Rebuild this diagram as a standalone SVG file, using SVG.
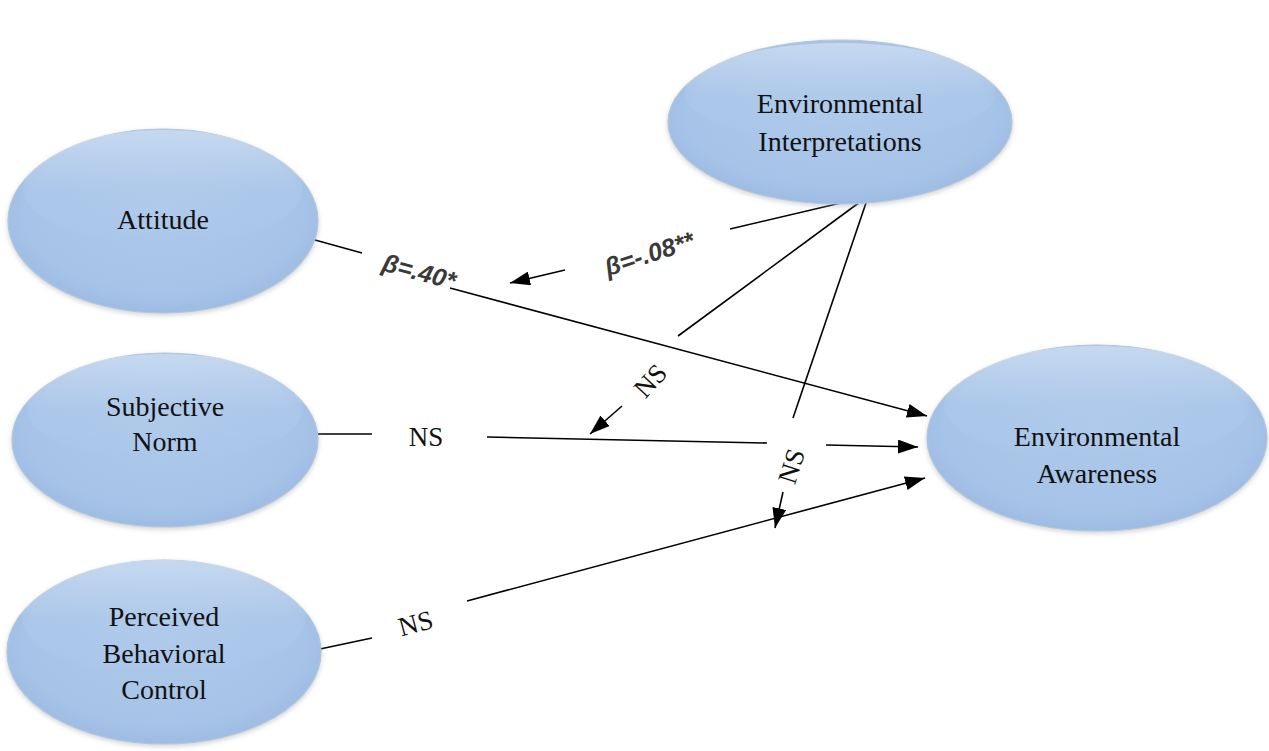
<svg xmlns="http://www.w3.org/2000/svg" width="1269" height="751" viewBox="0 0 1269 751">
<style>
.node-text{font-family:'Liberation Serif','DejaVu Serif',serif;font-size:28px;fill:#111;text-anchor:middle}
.ns{font-family:'Liberation Serif','DejaVu Serif',serif;font-size:27px;fill:#111;text-anchor:middle}
.beta{font-family:'Liberation Sans',Arial,sans-serif;font-size:25px;font-style:italic;font-weight:bold;fill:#3a3a3a;text-anchor:middle}
.conn{stroke:#000;stroke-width:1.6;fill:none}
.arr{stroke:#000;stroke-width:1.6;fill:none;marker-end:url(#ah)}
.ell{fill:url(#gfill);stroke:#b5c6da;stroke-width:1.2;filter:url(#sh)}
.hl{fill:url(#ghl)}
</style>
<defs>
<radialGradient id="gfill" cx="50%" cy="45%" r="58%">
<stop offset="0" stop-color="#acc8ea"/>
<stop offset="0.75" stop-color="#a7c4e8"/>
<stop offset="1" stop-color="#9bbae2"/>
</radialGradient>
<linearGradient id="ghl" x1="0" y1="0" x2="0" y2="1">
<stop offset="0" stop-color="#ffffff" stop-opacity="0.35"/>
<stop offset="0.5" stop-color="#ffffff" stop-opacity="0.06"/>
<stop offset="1" stop-color="#ffffff" stop-opacity="0"/>
</linearGradient>
<filter id="sh" x="-10%" y="-10%" width="120%" height="125%">
<feDropShadow dx="0" dy="2" stdDeviation="2.5" flood-color="#9a9ea4" flood-opacity="0.45"/>
</filter>
<marker id="ah" viewBox="0 0 20 14" refX="20" refY="7" markerWidth="20" markerHeight="14" markerUnits="userSpaceOnUse" orient="auto">
<path d="M0,0 L20,7 L0,14 Z" fill="#000"/>
</marker>
</defs>
<rect width="1269" height="751" fill="#fff"/>

<g id="connectors">
<line class="conn" x1="315" y1="240" x2="362" y2="253"/>
<line class="arr" x1="450" y1="288" x2="927" y2="416"/>
<line class="conn" x1="318" y1="434" x2="372" y2="434"/>
<line class="conn" x1="487" y1="437" x2="767" y2="443"/>
<line class="arr" x1="826" y1="445" x2="918" y2="447"/>
<line class="conn" x1="320" y1="649" x2="372" y2="638"/>
<line class="arr" x1="467" y1="601" x2="925" y2="478"/>
<line class="conn" x1="862" y1="198" x2="730" y2="229"/>
<line class="arr" x1="565" y1="270" x2="510" y2="283"/>
<line class="conn" x1="864" y1="199" x2="678" y2="336"/>
<line class="arr" x1="622" y1="406" x2="590" y2="434"/>
<line class="conn" x1="867" y1="200" x2="793" y2="418"/>
<line class="arr" x1="783" y1="492" x2="775" y2="528"/>
<text class="beta" transform="translate(417,280) rotate(15)">β=.40*</text>
<text class="beta" transform="translate(652,262) rotate(-18)">β=-.08**</text>
<text class="ns" x="426" y="446">NS</text>
<text class="ns" transform="translate(657,387) rotate(-47)">NS</text>
<text class="ns" transform="translate(800,469) rotate(-72)">NS</text>
<text class="ns" transform="translate(418,632) rotate(-15)">NS</text>
</g>

<g id="attitude">
<ellipse class="ell" cx="163" cy="221" rx="155" ry="92"/>
<ellipse class="hl" cx="163" cy="188" rx="140" ry="58"/>
<text class="node-text" x="163" y="229">Attitude</text>
</g>

<g id="subjective-norm">
<ellipse class="ell" cx="165" cy="440" rx="153" ry="87"/>
<ellipse class="hl" cx="165" cy="408" rx="138" ry="54"/>
<text class="node-text" x="165" y="416">Subjective</text>
<text class="node-text" x="165" y="451">Norm</text>
</g>

<g id="perceived-behavioral-control">
<ellipse class="ell" cx="164" cy="652" rx="157" ry="92"/>
<ellipse class="hl" cx="164" cy="618" rx="142" ry="58"/>
<text class="node-text" x="164" y="626">Perceived</text>
<text class="node-text" x="164" y="663">Behavioral</text>
<text class="node-text" x="164" y="699">Control</text>
</g>

<g id="environmental-interpretations">
<ellipse class="ell" cx="840" cy="122" rx="172" ry="82"/>
<ellipse class="hl" cx="840" cy="93" rx="155" ry="50"/>
<text class="node-text" x="840" y="113">Environmental</text>
<text class="node-text" x="840" y="151">Interpretations</text>
</g>

<g id="environmental-awareness">
<ellipse class="ell" cx="1097" cy="438" rx="170" ry="93"/>
<ellipse class="hl" cx="1097" cy="404" rx="153" ry="58"/>
<text class="node-text" x="1097" y="446">Environmental</text>
<text class="node-text" x="1097" y="483">Awareness</text>
</g>
</svg>
